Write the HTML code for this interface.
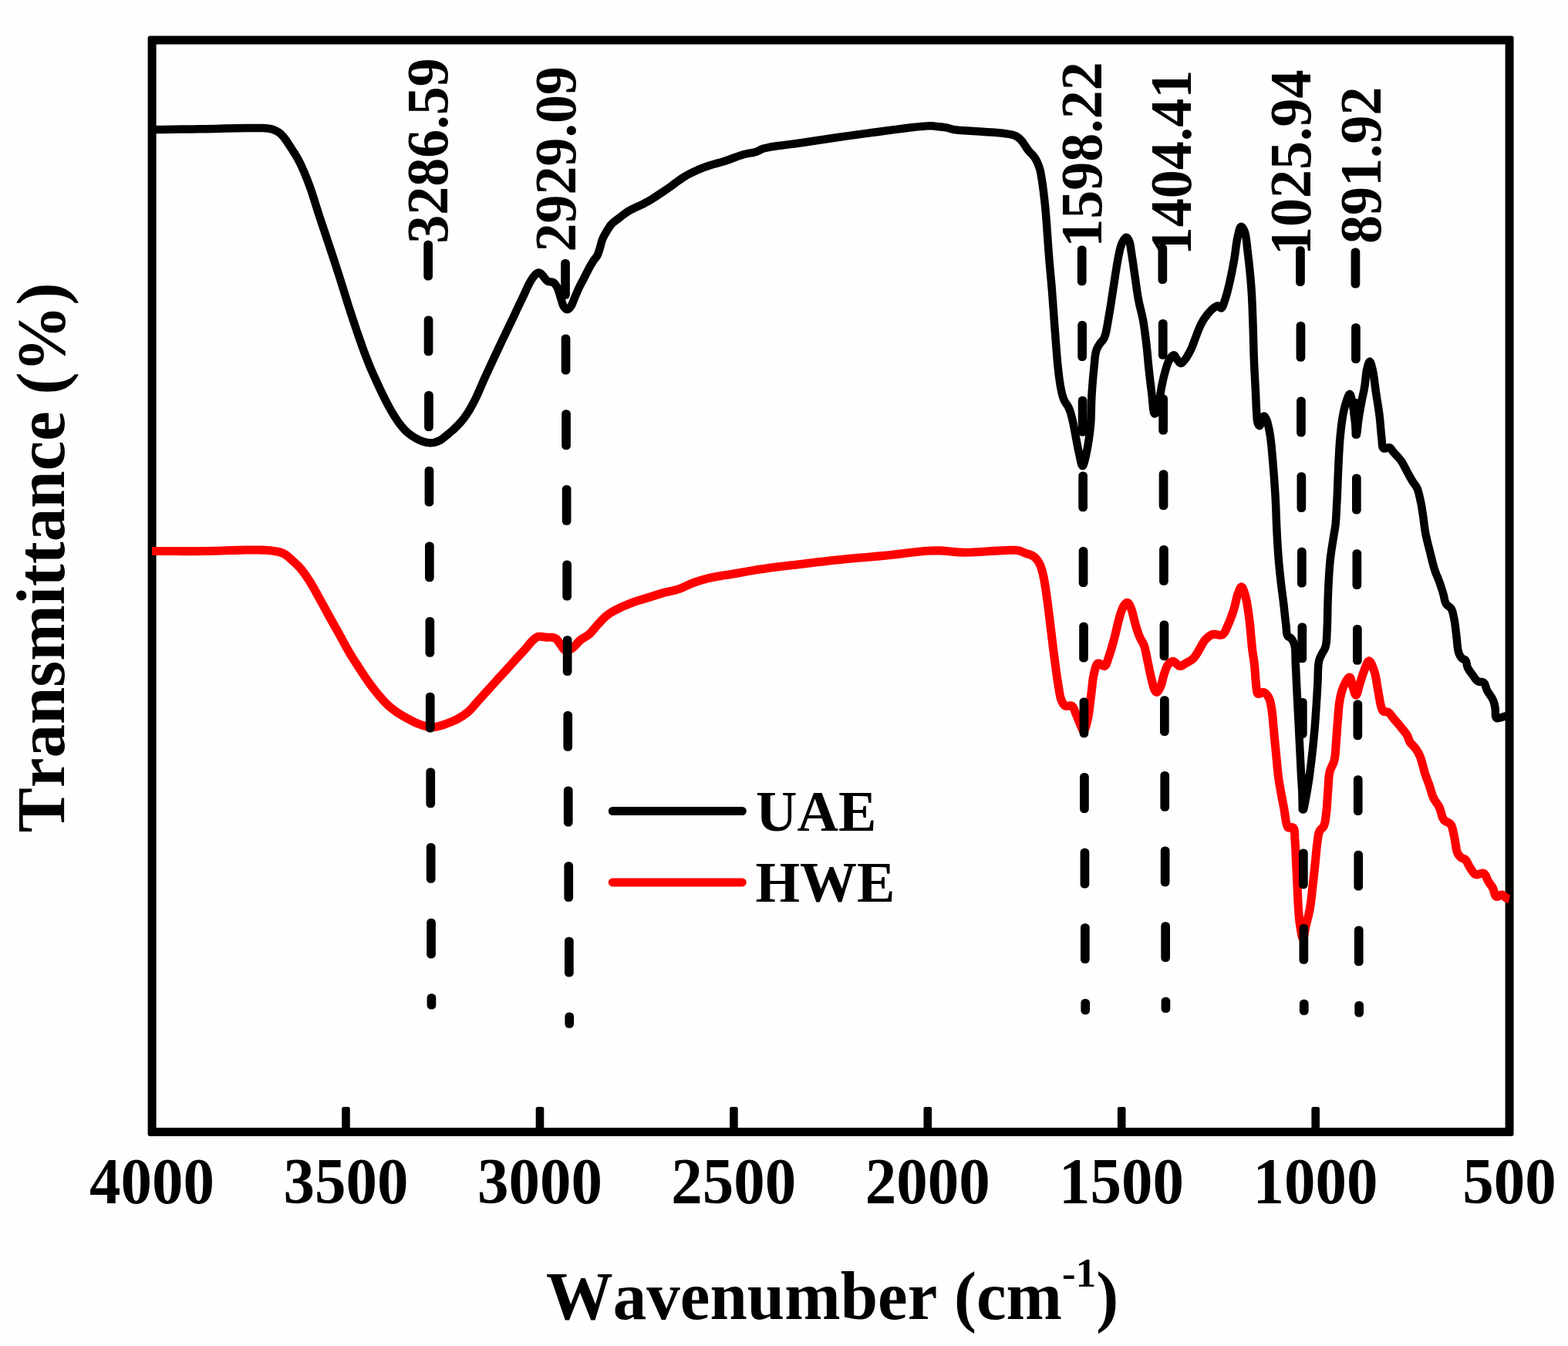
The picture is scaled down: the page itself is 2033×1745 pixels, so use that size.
<!DOCTYPE html>
<html lang="en"><head><meta charset="utf-8"><title>FTIR spectra of UAE and HWE</title>
<style>html,body{margin:0;padding:0;background:#fefefe;}body{width:2033px;height:1745px;overflow:hidden;}text{font-kerning:none;font-variant-ligatures:none;}</style></head>
<body>
<svg width="2033" height="1745" viewBox="0 0 2033 1745" style="display:block" font-family="'Liberation Serif', serif" font-weight="bold" fill="#000">
<rect width="2033" height="1745" fill="#fefefe"/>
<path fill="#000" fill-rule="evenodd" d="M194.6,46.6 H1959.6 a3,3 0 0 1 3,3 V1469.9 a3,3 0 0 1 -3,3 H194.6 a3,3 0 0 1 -3,-3 V49.6 a3,3 0 0 1 3,-3 Z M202.6,57.6 V1461.9 H1951.6 V57.6 Z"/>
<path d="M197.00,168.00 L197.91,168.00 L198.73,168.00 L199.60,168.01 L200.64,168.01 L202.00,168.00 L210.07,167.93 L222.07,167.79 L236.34,167.61 L251.21,167.40 L265.00,167.20 L278.48,166.91 L292.55,166.52 L306.39,166.16 L319.15,165.94 L330.00,166.00 L335.36,166.08 L340.20,166.12 L344.59,166.28 L348.63,166.70 L352.40,167.50 L355.04,168.35 L357.43,169.33 L359.65,170.50 L361.81,171.94 L364.00,173.70 L367.06,176.84 L370.09,180.74 L373.04,185.04 L375.86,189.41 L378.50,193.50 L380.64,196.77 L382.63,199.90 L384.52,203.04 L386.39,206.35 L388.30,210.00 L390.86,215.31 L393.44,221.07 L396.01,227.19 L398.54,233.53 L401.00,240.00 L403.69,247.60 L406.29,255.55 L408.85,263.70 L411.40,271.90 L414.00,280.00 L416.66,288.02 L419.36,296.04 L422.06,304.05 L424.75,312.05 L427.40,320.00 L429.96,327.73 L432.49,335.41 L435.01,343.07 L437.51,350.76 L440.00,358.50 L442.51,366.47 L445.00,374.51 L447.49,382.56 L449.98,390.58 L452.50,398.50 L454.97,406.12 L457.45,413.69 L459.94,421.21 L462.46,428.65 L465.00,436.00 L467.45,442.97 L469.91,449.90 L472.40,456.73 L474.93,463.45 L477.50,470.00 L479.93,475.92 L482.41,481.70 L484.91,487.37 L487.45,492.96 L490.00,498.50 L492.45,503.76 L494.91,508.96 L497.40,514.09 L499.93,519.12 L502.50,524.00 L504.92,528.43 L507.36,532.80 L509.85,537.04 L512.39,541.13 L515.00,545.00 L517.39,548.32 L519.82,551.52 L522.31,554.57 L524.87,557.41 L527.50,560.00 L529.92,562.06 L532.44,563.94 L534.99,565.64 L537.53,567.19 L540.00,568.60 L542.03,569.68 L544.02,570.67 L546.00,571.54 L547.98,572.28 L550.00,572.90 L551.98,573.39 L553.98,573.78 L555.99,574.05 L558.01,574.17 L560.00,574.10 L562.02,573.83 L564.05,573.38 L566.07,572.77 L568.06,572.00 L570.00,571.10 L572.07,569.90 L574.08,568.46 L576.07,566.88 L578.03,565.23 L580.00,563.60 L582.01,561.97 L584.00,560.32 L585.98,558.62 L587.98,556.83 L590.00,554.90 L592.46,552.45 L594.98,549.86 L597.51,547.11 L600.00,544.19 L602.40,541.10 L605.06,537.29 L607.63,533.23 L610.14,528.97 L612.60,524.54 L615.00,520.00 L617.58,514.76 L620.07,509.27 L622.50,503.64 L624.93,497.98 L627.40,492.40 L629.91,486.90 L632.42,481.40 L634.95,475.91 L637.47,470.44 L640.00,465.00 L642.48,459.70 L644.95,454.44 L647.43,449.19 L649.91,443.95 L652.40,438.70 L654.91,433.44 L657.43,428.18 L659.96,422.92 L662.49,417.66 L665.00,412.40 L667.48,407.15 L669.95,401.88 L672.42,396.62 L674.90,391.39 L677.40,386.20 L679.90,380.90 L682.44,375.39 L684.99,370.02 L687.52,365.17 L690.00,361.20 L691.52,359.14 L693.06,357.24 L694.57,355.61 L696.03,354.39 L697.40,353.70 L698.14,353.56 L698.84,353.59 L699.53,353.77 L700.24,354.08 L701.00,354.50 L702.61,355.93 L704.35,358.12 L706.20,360.60 L708.09,362.89 L710.00,364.50 L711.49,365.09 L713.04,365.33 L714.59,365.45 L716.07,365.66 L717.40,366.20 L718.59,367.11 L719.65,368.21 L720.61,369.49 L721.52,370.93 L722.40,372.50 L723.56,375.09 L724.60,378.13 L725.56,381.38 L726.48,384.58 L727.40,387.50 L728.10,389.72 L728.74,391.92 L729.38,394.01 L730.11,395.90 L731.00,397.50 L731.78,398.56 L732.65,399.55 L733.56,400.39 L734.49,400.98 L735.40,401.20 L736.33,400.99 L737.27,400.42 L738.22,399.58 L739.14,398.58 L740.00,397.50 L741.12,395.71 L742.12,393.54 L743.06,391.14 L744.00,388.64 L745.00,386.20 L746.16,383.53 L747.33,380.78 L748.52,377.98 L749.75,375.21 L751.00,372.50 L752.26,369.95 L753.55,367.46 L754.86,364.98 L756.18,362.50 L757.50,360.00 L758.84,357.38 L760.20,354.70 L761.55,352.03 L762.89,349.44 L764.20,347.00 L765.28,345.06 L766.33,343.20 L767.38,341.42 L768.43,339.68 L769.50,338.00 L770.52,336.56 L771.57,335.21 L772.62,333.88 L773.61,332.50 L774.50,331.00 L775.35,329.16 L776.08,327.19 L776.74,325.14 L777.37,323.06 L778.00,321.00 L778.60,318.92 L779.13,316.81 L779.67,314.69 L780.27,312.58 L781.00,310.50 L781.93,308.36 L782.97,306.23 L784.10,304.12 L785.29,302.04 L786.50,300.00 L787.70,298.00 L788.93,296.01 L790.20,294.06 L791.55,292.21 L793.00,290.50 L794.45,289.06 L795.95,287.79 L797.54,286.57 L799.22,285.34 L801.00,284.00 L803.46,282.07 L806.06,280.01 L808.84,277.89 L811.81,275.77 L815.00,273.70 L819.49,271.21 L824.45,268.81 L829.67,266.40 L834.92,263.89 L840.00,261.20 L845.06,258.19 L850.07,255.01 L855.06,251.72 L860.03,248.36 L865.00,245.00 L870.00,241.48 L874.95,237.80 L879.91,234.14 L884.92,230.65 L890.00,227.50 L894.91,224.85 L899.88,222.43 L904.89,220.21 L909.94,218.14 L915.00,216.20 L919.96,214.50 L924.96,213.00 L929.98,211.61 L935.00,210.22 L940.00,208.70 L945.11,206.95 L950.30,205.04 L955.44,203.15 L960.39,201.41 L965.00,200.00 L968.28,199.24 L971.41,198.70 L974.41,198.23 L977.28,197.71 L980.00,197.00 L982.02,196.20 L983.77,195.30 L985.51,194.34 L987.50,193.39 L990.00,192.50 L997.51,190.81 L1007.20,189.29 L1018.13,187.86 L1029.38,186.45 L1040.00,185.00 L1050.00,183.49 L1060.00,181.97 L1070.00,180.45 L1080.00,178.96 L1090.00,177.50 L1100.00,176.09 L1109.99,174.71 L1120.00,173.35 L1130.00,172.02 L1140.00,170.70 L1150.41,169.32 L1161.23,167.89 L1171.85,166.51 L1181.65,165.31 L1190.00,164.40 L1194.17,163.99 L1197.95,163.65 L1201.40,163.38 L1204.53,163.22 L1207.40,163.20 L1209.05,163.28 L1210.49,163.42 L1211.85,163.60 L1213.25,163.80 L1214.80,164.00 L1217.14,164.24 L1219.69,164.50 L1222.33,164.77 L1224.95,165.10 L1227.40,165.50 L1229.31,165.94 L1231.03,166.46 L1232.76,167.00 L1234.69,167.53 L1237.00,168.00 L1242.91,168.72 L1250.25,169.28 L1258.34,169.75 L1266.48,170.20 L1274.00,170.70 L1280.30,171.16 L1286.61,171.58 L1292.71,172.03 L1298.41,172.55 L1303.50,173.20 L1306.58,173.66 L1309.44,174.12 L1312.09,174.64 L1314.53,175.30 L1316.80,176.20 L1318.50,177.11 L1320.02,178.13 L1321.43,179.28 L1322.80,180.56 L1324.20,182.00 L1326.00,184.17 L1327.74,186.70 L1329.46,189.40 L1331.20,192.09 L1333.00,194.60 L1334.81,196.73 L1336.71,198.75 L1338.60,200.73 L1340.40,202.78 L1342.00,205.00 L1343.45,207.47 L1344.75,210.07 L1345.92,212.77 L1346.97,215.52 L1347.90,218.30 L1348.69,221.11 L1349.30,223.94 L1349.82,226.84 L1350.30,229.84 L1350.80,233.00 L1351.45,237.16 L1352.08,241.58 L1352.69,246.16 L1353.26,250.77 L1353.80,255.30 L1354.29,259.67 L1354.75,263.99 L1355.18,268.33 L1355.59,272.77 L1356.00,277.40 L1356.46,283.04 L1356.91,288.93 L1357.34,294.95 L1357.77,301.01 L1358.20,307.00 L1358.63,312.87 L1359.05,318.68 L1359.47,324.53 L1359.91,330.47 L1360.40,336.60 L1361.00,343.58 L1361.65,350.65 L1362.33,357.92 L1363.02,365.50 L1363.70,373.50 L1364.57,384.57 L1365.45,396.55 L1366.34,408.90 L1367.23,421.10 L1368.10,432.60 L1368.83,442.07 L1369.53,451.37 L1370.24,460.37 L1370.98,468.95 L1371.80,477.00 L1372.46,482.89 L1373.14,488.52 L1373.85,493.87 L1374.63,498.90 L1375.50,503.60 L1376.18,506.90 L1376.87,510.00 L1377.62,512.93 L1378.48,515.71 L1379.50,518.40 L1380.63,520.64 L1381.94,522.71 L1383.31,524.71 L1384.64,526.77 L1385.80,529.00 L1386.88,531.66 L1387.83,534.43 L1388.68,537.32 L1389.49,540.34 L1390.30,543.50 L1391.26,547.62 L1392.15,552.02 L1393.00,556.58 L1393.84,561.18 L1394.70,565.70 L1395.57,570.20 L1396.42,574.76 L1397.28,579.28 L1398.16,583.69 L1399.10,587.90 L1399.95,591.83 L1400.83,596.13 L1401.74,600.08 L1402.66,602.97 L1403.60,604.10 L1404.57,603.05 L1405.58,600.29 L1406.59,596.44 L1407.58,592.11 L1408.50,587.90 L1409.80,581.51 L1411.05,574.26 L1412.20,566.52 L1413.20,558.64 L1414.00,551.00 L1414.52,543.60 L1414.78,536.17 L1414.92,528.74 L1415.08,521.32 L1415.40,513.90 L1415.88,506.36 L1416.45,498.68 L1417.06,491.08 L1417.72,483.78 L1418.40,477.00 L1418.87,472.03 L1419.30,467.20 L1419.78,462.64 L1420.42,458.47 L1421.30,454.80 L1422.05,452.70 L1422.88,450.85 L1423.80,449.16 L1424.78,447.54 L1425.80,445.90 L1426.92,444.36 L1428.14,442.97 L1429.40,441.56 L1430.61,439.96 L1431.70,438.00 L1433.22,433.71 L1434.46,428.48 L1435.54,422.66 L1436.55,416.56 L1437.60,410.50 L1438.84,403.46 L1440.03,396.11 L1441.19,388.57 L1442.34,380.99 L1443.50,373.50 L1444.67,365.90 L1445.84,358.11 L1447.01,350.42 L1448.20,343.12 L1449.40,336.50 L1450.25,332.11 L1451.08,327.94 L1451.93,324.04 L1452.85,320.48 L1453.90,317.30 L1454.72,315.31 L1455.60,313.43 L1456.52,311.75 L1457.43,310.31 L1458.30,309.20 L1458.74,308.71 L1459.18,308.27 L1459.61,307.93 L1460.05,307.72 L1460.50,307.70 L1461.24,308.10 L1462.02,308.94 L1462.80,310.11 L1463.54,311.47 L1464.20,312.90 L1465.03,315.44 L1465.65,318.45 L1466.16,321.80 L1466.64,325.39 L1467.20,329.10 L1468.05,334.45 L1468.93,340.30 L1469.82,346.43 L1470.71,352.64 L1471.60,358.70 L1472.45,364.65 L1473.27,370.63 L1474.10,376.59 L1475.00,382.49 L1476.00,388.30 L1477.12,393.68 L1478.36,398.92 L1479.65,404.13 L1480.89,409.42 L1482.00,414.90 L1483.06,421.18 L1484.02,427.67 L1484.90,434.26 L1485.72,440.87 L1486.50,447.40 L1487.19,453.75 L1487.80,460.08 L1488.38,466.40 L1488.96,472.71 L1489.60,479.00 L1490.30,485.26 L1491.02,491.54 L1491.77,497.79 L1492.53,503.96 L1493.30,510.00 L1493.94,516.24 L1494.51,523.17 L1495.13,529.63 L1495.92,534.46 L1497.00,536.50 L1497.81,536.14 L1498.75,534.94 L1499.73,533.17 L1500.67,531.10 L1501.50,529.00 L1502.59,524.94 L1503.42,519.96 L1504.11,514.51 L1504.79,509.04 L1505.60,504.00 L1506.41,499.90 L1507.22,495.92 L1508.07,492.03 L1508.99,488.20 L1510.00,484.40 L1511.04,480.63 L1512.12,476.76 L1513.29,473.01 L1514.57,469.59 L1516.00,466.70 L1517.11,464.91 L1518.31,463.17 L1519.56,461.67 L1520.77,460.65 L1521.90,460.30 L1522.84,460.78 L1523.70,461.93 L1524.55,463.43 L1525.40,464.98 L1526.30,466.30 L1527.20,467.44 L1528.13,468.68 L1529.07,469.82 L1530.03,470.65 L1531.00,471.00 L1531.98,470.77 L1532.97,470.09 L1533.97,469.10 L1534.98,467.93 L1536.00,466.70 L1537.61,464.57 L1539.28,462.00 L1540.94,459.16 L1542.53,456.21 L1544.00,453.30 L1545.35,450.33 L1546.57,447.26 L1547.73,444.15 L1548.85,441.04 L1550.00,438.00 L1551.11,435.11 L1552.20,432.21 L1553.28,429.36 L1554.37,426.60 L1555.50,424.00 L1556.48,421.92 L1557.47,419.93 L1558.47,418.02 L1559.48,416.21 L1560.50,414.50 L1561.34,413.18 L1562.19,411.96 L1563.04,410.79 L1563.91,409.64 L1564.80,408.50 L1565.70,407.36 L1566.62,406.22 L1567.56,405.11 L1568.52,404.03 L1569.50,403.00 L1570.46,402.03 L1571.44,401.07 L1572.44,400.16 L1573.46,399.33 L1574.50,398.60 L1575.48,397.98 L1576.51,397.38 L1577.54,396.87 L1578.55,396.55 L1579.50,396.50 L1580.36,396.91 L1581.19,397.73 L1581.99,398.63 L1582.76,399.33 L1583.50,399.50 L1584.59,398.57 L1585.60,396.62 L1586.56,394.01 L1587.48,391.12 L1588.40,388.30 L1589.65,384.42 L1590.86,380.15 L1592.04,375.60 L1593.18,370.88 L1594.30,366.10 L1595.56,360.46 L1596.79,354.58 L1597.98,348.56 L1599.12,342.50 L1600.20,336.50 L1601.15,330.41 L1601.99,324.13 L1602.80,317.94 L1603.68,312.13 L1604.70,307.00 L1605.48,303.58 L1606.29,300.08 L1607.15,296.96 L1608.08,294.68 L1609.10,293.70 L1609.94,293.95 L1610.86,294.84 L1611.79,296.19 L1612.70,297.84 L1613.50,299.60 L1614.79,303.89 L1615.76,309.41 L1616.54,315.73 L1617.25,322.43 L1618.00,329.10 L1618.99,337.38 L1619.96,346.15 L1620.87,355.22 L1621.69,364.40 L1622.40,373.50 L1622.99,382.74 L1623.45,392.07 L1623.83,401.42 L1624.17,410.75 L1624.50,420.00 L1624.79,428.95 L1625.03,437.84 L1625.25,446.69 L1625.49,455.54 L1625.80,464.40 L1626.19,473.44 L1626.64,482.64 L1627.12,491.75 L1627.58,500.52 L1628.00,508.70 L1628.27,514.76 L1628.51,520.63 L1628.74,526.20 L1629.00,531.36 L1629.30,536.00 L1629.49,538.82 L1629.64,541.48 L1629.84,543.93 L1630.13,546.12 L1630.60,548.00 L1631.00,549.10 L1631.46,550.18 L1631.97,551.12 L1632.49,551.77 L1633.00,552.00 L1633.63,551.51 L1634.29,550.31 L1634.94,548.70 L1635.59,546.99 L1636.20,545.50 L1636.73,544.11 L1637.23,542.55 L1637.72,541.08 L1638.23,539.98 L1638.80,539.50 L1639.37,539.72 L1640.00,540.39 L1640.63,541.35 L1641.25,542.44 L1641.80,543.50 L1642.40,544.85 L1642.93,546.33 L1643.40,547.93 L1643.84,549.66 L1644.30,551.50 L1644.95,554.32 L1645.58,557.39 L1646.18,560.70 L1646.76,564.21 L1647.30,567.90 L1647.97,573.24 L1648.58,579.07 L1649.14,585.18 L1649.68,591.36 L1650.20,597.40 L1650.71,603.35 L1651.20,609.35 L1651.66,615.34 L1652.09,621.24 L1652.50,627.00 L1652.84,632.07 L1653.16,636.95 L1653.45,641.80 L1653.73,646.76 L1654.00,652.00 L1654.29,658.61 L1654.55,665.53 L1654.80,672.65 L1655.07,679.84 L1655.40,687.00 L1655.79,694.40 L1656.21,701.93 L1656.67,709.46 L1657.16,716.85 L1657.70,724.00 L1658.22,730.12 L1658.76,736.05 L1659.34,741.87 L1659.96,747.66 L1660.60,753.50 L1661.30,759.43 L1662.05,765.37 L1662.82,771.31 L1663.58,777.19 L1664.30,783.00 L1664.93,788.55 L1665.54,794.15 L1666.13,799.65 L1666.71,804.88 L1667.30,809.70 L1667.64,813.14 L1667.87,816.53 L1668.15,819.69 L1668.64,822.41 L1669.50,824.50 L1670.25,825.31 L1671.14,825.83 L1672.10,826.23 L1673.04,826.70 L1673.90,827.40 L1674.96,828.73 L1675.97,830.31 L1676.89,832.10 L1677.71,834.10 L1678.40,836.30 L1679.11,840.22 L1679.45,844.78 L1679.57,849.75 L1679.64,854.90 L1679.80,860.00 L1680.09,865.71 L1680.37,871.61 L1680.64,877.61 L1680.92,883.63 L1681.20,889.60 L1681.49,895.50 L1681.79,901.40 L1682.10,907.30 L1682.40,913.20 L1682.70,919.10 L1683.00,925.02 L1683.30,930.94 L1683.60,936.86 L1683.90,942.78 L1684.20,948.70 L1684.50,954.62 L1684.80,960.54 L1685.10,966.46 L1685.40,972.38 L1685.70,978.30 L1686.00,984.29 L1686.29,990.35 L1686.59,996.37 L1686.89,1002.26 L1687.20,1007.90 L1687.48,1012.55 L1687.76,1017.04 L1688.04,1021.42 L1688.33,1025.73 L1688.60,1030.00 L1688.80,1034.55 L1688.96,1039.65 L1689.13,1044.39 L1689.39,1047.91 L1689.80,1049.30 L1690.33,1048.33 L1690.97,1045.75 L1691.68,1042.18 L1692.41,1038.22 L1693.10,1034.50 L1693.99,1029.71 L1694.90,1024.50 L1695.80,1019.02 L1696.68,1013.44 L1697.50,1007.90 L1698.31,1002.09 L1699.08,996.18 L1699.82,990.22 L1700.52,984.25 L1701.20,978.30 L1701.86,972.38 L1702.49,966.46 L1703.09,960.54 L1703.66,954.62 L1704.20,948.70 L1704.70,942.81 L1705.15,936.94 L1705.58,931.06 L1705.99,925.13 L1706.40,919.10 L1706.83,912.56 L1707.24,905.88 L1707.64,899.15 L1708.02,892.49 L1708.40,886.00 L1708.65,879.90 L1708.79,873.66 L1708.97,867.61 L1709.33,862.11 L1710.00,857.50 L1710.56,855.35 L1711.21,853.51 L1711.92,851.85 L1712.69,850.23 L1713.50,848.50 L1714.48,846.60 L1715.58,844.78 L1716.71,842.90 L1717.75,840.84 L1718.60,838.50 L1719.46,834.39 L1719.97,829.67 L1720.27,824.57 L1720.47,819.27 L1720.70,814.00 L1720.96,808.02 L1721.12,801.83 L1721.23,795.52 L1721.34,789.21 L1721.50,783.00 L1721.70,777.05 L1721.90,771.15 L1722.13,765.26 L1722.39,759.39 L1722.70,753.50 L1723.05,747.56 L1723.42,741.58 L1723.84,735.62 L1724.33,729.74 L1724.90,724.00 L1725.54,718.77 L1726.28,713.60 L1727.06,708.53 L1727.85,703.59 L1728.60,698.80 L1729.24,694.83 L1729.89,691.05 L1730.52,687.33 L1731.10,683.56 L1731.60,679.60 L1732.04,674.76 L1732.37,669.62 L1732.64,664.44 L1732.87,659.48 L1733.10,655.00 L1733.26,652.21 L1733.40,649.75 L1733.53,647.36 L1733.66,644.80 L1733.80,641.80 L1734.06,635.59 L1734.34,628.34 L1734.63,620.49 L1734.95,612.49 L1735.30,604.80 L1735.66,597.35 L1736.03,589.84 L1736.44,582.36 L1736.92,575.01 L1737.50,567.90 L1738.10,561.64 L1738.76,555.45 L1739.49,549.42 L1740.30,543.67 L1741.20,538.30 L1741.97,534.34 L1742.79,530.56 L1743.66,526.97 L1744.60,523.61 L1745.60,520.50 L1746.44,518.05 L1747.34,515.47 L1748.27,513.16 L1749.17,511.50 L1750.00,510.90 L1750.84,511.79 L1751.63,513.99 L1752.37,517.01 L1753.06,520.34 L1753.70,523.50 L1754.44,527.58 L1755.07,532.08 L1755.63,536.75 L1756.16,541.37 L1756.70,545.70 L1757.16,549.64 L1757.60,553.97 L1758.04,557.95 L1758.47,560.87 L1758.90,562.00 L1759.33,560.87 L1759.74,557.95 L1760.16,553.96 L1760.60,549.64 L1761.10,545.70 L1761.75,541.48 L1762.45,537.06 L1763.21,532.54 L1763.99,527.99 L1764.80,523.50 L1765.67,519.06 L1766.62,514.62 L1767.58,510.19 L1768.49,505.75 L1769.30,501.30 L1769.94,496.73 L1770.44,492.01 L1770.91,487.35 L1771.46,482.98 L1772.20,479.10 L1772.85,476.44 L1773.58,473.68 L1774.35,471.23 L1775.14,469.47 L1775.90,468.80 L1776.65,469.45 L1777.42,471.16 L1778.18,473.58 L1778.91,476.34 L1779.60,479.10 L1780.62,484.02 L1781.51,489.81 L1782.34,496.11 L1783.15,502.53 L1784.00,508.70 L1784.92,514.62 L1785.87,520.54 L1786.81,526.45 L1787.70,532.37 L1788.50,538.30 L1789.17,544.40 L1789.75,550.69 L1790.27,556.90 L1790.81,562.73 L1791.40,567.90 L1791.70,571.19 L1791.86,574.44 L1792.11,577.39 L1792.65,579.76 L1793.70,581.30 L1795.02,581.62 L1796.71,581.28 L1798.54,580.67 L1800.31,580.21 L1801.80,580.30 L1802.83,580.95 L1803.67,581.90 L1804.44,583.05 L1805.24,584.32 L1806.20,585.60 L1808.04,587.64 L1810.17,589.91 L1812.43,592.34 L1814.63,594.86 L1816.60,597.40 L1818.26,599.95 L1819.76,602.60 L1821.17,605.30 L1822.56,608.01 L1824.00,610.70 L1825.49,613.41 L1826.98,616.16 L1828.47,618.89 L1829.94,621.53 L1831.40,624.00 L1832.63,625.85 L1833.88,627.54 L1835.11,629.18 L1836.26,630.93 L1837.30,632.90 L1838.41,635.76 L1839.37,638.91 L1840.20,642.25 L1840.96,645.65 L1841.70,649.00 L1842.40,652.30 L1843.01,655.58 L1843.57,658.91 L1844.12,662.36 L1844.70,666.00 L1845.40,670.86 L1846.07,676.05 L1846.75,681.41 L1847.51,686.78 L1848.40,692.00 L1849.43,696.98 L1850.59,701.92 L1851.81,706.83 L1853.07,711.69 L1854.30,716.50 L1855.44,721.14 L1856.58,725.81 L1857.74,730.40 L1858.93,734.83 L1860.20,739.00 L1861.34,742.21 L1862.54,745.24 L1863.77,748.15 L1864.97,751.04 L1866.10,754.00 L1867.15,757.00 L1868.16,760.01 L1869.14,763.02 L1870.08,766.03 L1871.00,769.00 L1871.77,771.94 L1872.42,774.97 L1873.08,777.93 L1873.90,780.66 L1875.00,783.00 L1876.16,784.41 L1877.53,785.52 L1878.98,786.52 L1880.35,787.61 L1881.50,789.00 L1882.58,791.15 L1883.42,793.58 L1884.10,796.24 L1884.70,799.07 L1885.30,802.00 L1886.04,806.02 L1886.66,810.37 L1887.21,814.91 L1887.74,819.50 L1888.30,824.00 L1888.81,828.60 L1889.23,833.39 L1889.69,838.08 L1890.31,842.39 L1891.20,846.00 L1891.91,847.88 L1892.70,849.58 L1893.56,851.08 L1894.49,852.39 L1895.50,853.50 L1896.38,854.13 L1897.36,854.53 L1898.36,854.87 L1899.30,855.31 L1900.10,856.00 L1900.89,857.49 L1901.41,859.41 L1901.83,861.55 L1902.30,863.71 L1903.00,865.70 L1903.99,867.56 L1905.13,869.36 L1906.38,871.12 L1907.68,872.86 L1909.00,874.60 L1910.36,876.51 L1911.74,878.52 L1913.18,880.45 L1914.69,882.14 L1916.30,883.40 L1917.75,883.92 L1919.33,884.06 L1920.92,884.09 L1922.41,884.28 L1923.70,884.90 L1924.89,886.37 L1925.76,888.37 L1926.49,890.67 L1927.25,893.05 L1928.20,895.30 L1929.59,897.64 L1931.19,900.00 L1932.83,902.37 L1934.36,904.74 L1935.60,907.10 L1936.42,909.14 L1937.07,911.15 L1937.61,913.17 L1938.07,915.24 L1938.50,917.40 L1938.79,920.21 L1938.86,923.40 L1938.92,926.51 L1939.23,929.09 L1940.00,930.70 L1940.70,931.08 L1941.53,931.17 L1942.44,931.07 L1943.41,930.88 L1944.40,930.70 L1945.78,930.37 L1947.29,929.85 L1948.84,929.28 L1950.37,928.78 L1951.80,928.50 L1952.89,928.47 L1953.94,928.55 L1954.96,928.70 L1955.97,928.87 L1957.00,929.00" fill="none" stroke="#000" stroke-width="10.5" stroke-linejoin="round" stroke-linecap="butt"/>
<rect x="443.2" y="1435" width="10.6" height="32" rx="2.5" fill="#000"/>
<rect x="694.7" y="1435" width="10.6" height="32" rx="2.5" fill="#000"/>
<rect x="946.1" y="1435" width="10.6" height="32" rx="2.5" fill="#000"/>
<rect x="1197.5" y="1435" width="10.6" height="32" rx="2.5" fill="#000"/>
<rect x="1448.9" y="1435" width="10.6" height="32" rx="2.5" fill="#000"/>
<rect x="1700.4" y="1435" width="10.6" height="32" rx="2.5" fill="#000"/>
<path d="M197.00,714.50 L210.62,714.52 L224.27,714.57 L237.91,714.61 L251.50,714.60 L265.00,714.50 L278.64,714.23 L292.73,713.81 L306.51,713.38 L319.19,713.07 L330.00,713.00 L335.30,713.05 L340.03,713.13 L344.34,713.28 L348.41,713.55 L352.40,714.00 L355.65,714.45 L358.76,714.93 L361.75,715.54 L364.62,716.36 L367.40,717.50 L370.13,719.07 L372.73,721.00 L375.23,723.14 L377.65,725.36 L380.00,727.50 L382.11,729.38 L384.12,731.24 L386.08,733.14 L388.03,735.16 L390.00,737.40 L392.49,740.50 L395.00,743.88 L397.50,747.48 L399.97,751.21 L402.40,755.00 L404.99,759.27 L407.52,763.71 L410.02,768.27 L412.51,772.86 L415.00,777.40 L417.49,781.91 L419.97,786.44 L422.43,790.96 L424.91,795.49 L427.40,800.00 L429.91,804.49 L432.43,808.96 L434.97,813.44 L437.49,817.91 L440.00,822.40 L442.48,826.94 L444.94,831.51 L447.39,836.08 L449.87,840.59 L452.40,845.00 L454.87,849.12 L457.38,853.16 L459.91,857.14 L462.46,861.08 L465.00,865.00 L467.46,868.80 L469.92,872.58 L472.38,876.31 L474.87,879.99 L477.40,883.60 L479.87,887.01 L482.37,890.36 L484.89,893.66 L487.43,896.87 L490.00,900.00 L492.43,902.88 L494.87,905.71 L497.34,908.46 L499.84,911.10 L502.40,913.60 L504.85,915.80 L507.35,917.90 L509.88,919.89 L512.43,921.79 L515.00,923.60 L517.45,925.22 L519.91,926.75 L522.39,928.20 L524.89,929.61 L527.40,931.00 L529.89,932.37 L532.40,933.73 L534.92,935.03 L537.46,936.27 L540.00,937.40 L542.51,938.41 L545.08,939.35 L547.63,940.22 L550.10,940.97 L552.40,941.60 L554.01,942.01 L555.51,942.37 L556.97,942.65 L558.44,942.84 L560.00,942.90 L561.90,942.79 L563.86,942.52 L565.87,942.12 L567.92,941.63 L570.00,941.10 L572.41,940.43 L574.89,939.65 L577.40,938.79 L579.91,937.87 L582.40,936.90 L584.94,935.88 L587.49,934.81 L590.02,933.67 L592.53,932.44 L595.00,931.10 L597.55,929.59 L600.06,927.98 L602.55,926.26 L605.00,924.41 L607.40,922.40 L610.00,919.92 L612.54,917.19 L615.03,914.33 L617.51,911.43 L620.00,908.60 L622.49,905.86 L624.97,903.12 L627.44,900.38 L629.92,897.64 L632.40,894.90 L634.90,892.14 L637.40,889.38 L639.90,886.62 L642.40,883.86 L644.90,881.10 L647.40,878.36 L649.90,875.62 L652.40,872.88 L654.90,870.14 L657.40,867.40 L659.90,864.64 L662.40,861.88 L664.90,859.12 L667.40,856.36 L669.90,853.60 L672.45,850.81 L675.06,847.98 L677.63,845.18 L680.11,842.46 L682.40,839.90 L684.04,837.96 L685.55,836.07 L687.00,834.27 L688.46,832.57 L690.00,831.00 L691.42,829.66 L692.85,828.35 L694.32,827.16 L695.85,826.18 L697.50,825.50 L699.34,825.20 L701.28,825.25 L703.31,825.51 L705.39,825.84 L707.50,826.10 L710.00,826.19 L712.68,826.20 L715.35,826.29 L717.85,826.64 L720.00,827.40 L721.52,828.51 L722.77,829.95 L723.89,831.58 L724.99,833.27 L726.20,834.90 L727.61,836.82 L729.03,838.98 L730.50,841.05 L732.04,842.71 L733.70,843.60 L735.35,843.64 L737.11,843.12 L738.93,842.21 L740.75,841.08 L742.50,839.90 L744.51,838.25 L746.44,836.22 L748.36,834.02 L750.33,831.84 L752.40,829.90 L754.58,828.31 L756.86,826.90 L759.19,825.54 L761.49,824.09 L763.70,822.40 L766.02,820.18 L768.24,817.70 L770.42,815.09 L772.62,812.45 L774.90,809.90 L777.29,807.32 L779.70,804.70 L782.16,802.12 L784.71,799.66 L787.40,797.40 L790.21,795.40 L793.13,793.58 L796.16,791.90 L799.25,790.28 L802.40,788.70 L805.76,787.07 L809.20,785.51 L812.70,784.02 L816.27,782.58 L819.90,781.20 L823.79,779.84 L827.78,778.56 L831.82,777.34 L835.87,776.13 L839.90,774.90 L843.90,773.64 L847.89,772.36 L851.89,771.09 L855.89,769.86 L859.90,768.70 L863.92,767.67 L867.98,766.75 L872.02,765.85 L876.01,764.86 L879.90,763.70 L883.48,762.35 L886.95,760.82 L890.37,759.22 L893.83,757.65 L897.40,756.20 L901.20,754.82 L904.99,753.50 L908.89,752.25 L912.99,751.05 L917.40,749.90 L923.72,748.51 L930.57,747.25 L937.76,746.06 L945.08,744.90 L952.30,743.70 L959.62,742.42 L966.94,741.13 L974.34,739.85 L981.92,738.60 L989.80,737.40 L999.33,736.08 L1009.27,734.82 L1019.45,733.60 L1029.68,732.40 L1039.80,731.20 L1049.72,730.00 L1059.57,728.81 L1069.46,727.64 L1079.50,726.50 L1089.80,725.40 L1101.46,724.27 L1113.42,723.21 L1125.57,722.17 L1137.80,721.11 L1150.00,720.00 L1162.66,718.62 L1175.63,717.02 L1188.51,715.49 L1200.90,714.29 L1212.40,713.70 L1220.44,713.86 L1227.86,714.44 L1235.02,715.20 L1242.29,715.87 L1250.00,716.20 L1259.90,716.02 L1270.57,715.47 L1281.28,714.76 L1291.33,714.10 L1300.00,713.70 L1304.69,713.53 L1309.00,713.33 L1312.96,713.22 L1316.61,713.31 L1320.00,713.70 L1322.25,714.24 L1324.28,714.95 L1326.19,715.76 L1328.06,716.60 L1330.00,717.40 L1332.05,718.08 L1334.14,718.69 L1336.20,719.34 L1338.18,720.14 L1340.00,721.20 L1341.72,722.58 L1343.32,724.19 L1344.79,725.98 L1346.15,727.93 L1347.40,730.00 L1348.67,732.59 L1349.74,735.37 L1350.67,738.36 L1351.54,741.56 L1352.40,745.00 L1353.55,750.25 L1354.59,756.02 L1355.55,762.17 L1356.48,768.55 L1357.40,775.00 L1358.45,782.63 L1359.46,790.58 L1360.44,798.72 L1361.41,806.91 L1362.40,815.00 L1363.39,823.04 L1364.38,831.13 L1365.37,839.20 L1366.38,847.17 L1367.40,855.00 L1368.38,862.35 L1369.37,869.76 L1370.38,877.00 L1371.39,883.82 L1372.40,890.00 L1373.05,894.00 L1373.65,897.78 L1374.27,901.30 L1375.03,904.52 L1376.00,907.40 L1376.81,909.29 L1377.66,911.08 L1378.61,912.67 L1379.71,914.01 L1381.00,915.00 L1382.61,915.41 L1384.52,915.29 L1386.52,915.00 L1388.42,914.92 L1390.00,915.40 L1391.29,916.67 L1392.29,918.44 L1393.12,920.53 L1393.91,922.78 L1394.80,925.00 L1396.03,927.86 L1397.29,931.01 L1398.56,934.23 L1399.80,937.29 L1401.00,940.00 L1401.83,941.91 L1402.63,943.90 L1403.43,945.68 L1404.22,946.95 L1405.00,947.40 L1406.04,946.50 L1407.09,944.24 L1408.12,941.09 L1409.10,937.53 L1410.00,934.00 L1411.20,928.17 L1412.21,921.39 L1413.10,914.12 L1413.94,906.83 L1414.80,900.00 L1415.53,894.11 L1416.16,888.20 L1416.81,882.48 L1417.59,877.14 L1418.60,872.40 L1419.38,869.28 L1420.18,866.17 L1421.09,863.39 L1422.20,861.23 L1423.60,860.00 L1425.14,860.10 L1426.98,861.12 L1428.91,862.45 L1430.75,863.48 L1432.30,863.60 L1433.63,862.48 L1434.67,860.53 L1435.54,858.01 L1436.38,855.21 L1437.30,852.40 L1438.79,848.10 L1440.31,843.26 L1441.83,838.07 L1443.33,832.72 L1444.80,827.40 L1446.34,821.37 L1447.84,814.96 L1449.32,808.57 L1450.80,802.59 L1452.30,797.40 L1453.26,794.42 L1454.19,791.64 L1455.14,789.10 L1456.16,786.87 L1457.30,785.00 L1458.15,783.87 L1459.07,782.81 L1460.01,781.92 L1460.93,781.34 L1461.80,781.20 L1462.71,781.65 L1463.57,782.65 L1464.40,784.05 L1465.20,785.68 L1466.00,787.40 L1467.36,791.05 L1468.64,795.60 L1469.87,800.59 L1471.08,805.55 L1472.30,810.00 L1473.28,813.23 L1474.23,816.32 L1475.19,819.28 L1476.20,822.17 L1477.30,825.00 L1478.48,827.51 L1479.77,829.86 L1481.10,832.20 L1482.37,834.66 L1483.50,837.40 L1484.72,841.45 L1485.74,845.91 L1486.66,850.61 L1487.55,855.37 L1488.50,860.00 L1489.50,864.59 L1490.50,869.29 L1491.50,873.92 L1492.50,878.35 L1493.50,882.40 L1494.24,885.30 L1494.95,888.16 L1495.68,890.81 L1496.45,893.11 L1497.30,894.90 L1497.77,895.66 L1498.25,896.36 L1498.75,896.93 L1499.26,897.30 L1499.80,897.40 L1500.74,896.87 L1501.77,895.61 L1502.83,893.86 L1503.86,891.88 L1504.80,889.90 L1505.94,886.85 L1506.92,883.28 L1507.83,879.49 L1508.76,875.76 L1509.80,872.40 L1510.69,869.84 L1511.57,867.33 L1512.51,864.96 L1513.56,862.85 L1514.80,861.10 L1515.89,859.96 L1517.09,858.93 L1518.36,858.11 L1519.67,857.57 L1521.00,857.40 L1522.68,858.06 L1524.44,859.56 L1526.24,861.35 L1528.04,862.88 L1529.80,863.60 L1531.30,863.43 L1532.78,862.81 L1534.25,861.90 L1535.75,860.87 L1537.30,859.90 L1539.27,858.84 L1541.35,857.72 L1543.45,856.51 L1545.47,855.15 L1547.30,853.60 L1549.01,851.67 L1550.55,849.49 L1551.98,847.16 L1553.37,844.77 L1554.80,842.40 L1556.26,839.88 L1557.66,837.24 L1559.07,834.61 L1560.59,832.12 L1562.30,829.90 L1564.07,828.02 L1565.97,826.23 L1567.98,824.64 L1570.09,823.33 L1572.30,822.40 L1574.73,822.18 L1577.38,822.59 L1580.07,823.17 L1582.61,823.43 L1584.80,822.90 L1586.73,821.26 L1588.32,818.88 L1589.69,816.03 L1590.97,812.95 L1592.30,809.90 L1593.94,806.22 L1595.52,802.27 L1597.04,798.15 L1598.47,794.00 L1599.80,789.90 L1600.95,785.81 L1601.96,781.57 L1602.91,777.38 L1603.89,773.46 L1605.00,770.00 L1605.87,767.63 L1606.79,765.19 L1607.74,763.03 L1608.68,761.49 L1609.60,760.90 L1610.51,761.47 L1611.42,762.96 L1612.32,765.08 L1613.18,767.53 L1614.00,770.00 L1615.24,774.46 L1616.34,779.70 L1617.35,785.50 L1618.29,791.64 L1619.20,797.90 L1620.25,806.38 L1621.18,815.72 L1622.04,825.25 L1622.86,834.30 L1623.70,842.20 L1624.28,846.61 L1624.87,850.53 L1625.44,854.22 L1625.99,857.95 L1626.50,862.00 L1627.00,867.45 L1627.42,873.38 L1627.81,879.35 L1628.25,884.90 L1628.80,889.60 L1629.09,892.12 L1629.31,894.56 L1629.60,896.73 L1630.12,898.44 L1631.00,899.50 L1632.18,899.61 L1633.66,899.04 L1635.30,898.22 L1636.93,897.56 L1638.40,897.50 L1639.88,898.20 L1641.32,899.36 L1642.68,900.87 L1643.92,902.60 L1645.00,904.40 L1646.09,906.83 L1646.91,909.54 L1647.56,912.51 L1648.13,915.71 L1648.70,919.10 L1649.46,924.35 L1650.09,930.18 L1650.63,936.36 L1651.15,942.61 L1651.70,948.70 L1652.28,954.62 L1652.86,960.54 L1653.44,966.46 L1654.02,972.38 L1654.60,978.30 L1655.17,984.29 L1655.73,990.35 L1656.30,996.38 L1656.91,1002.26 L1657.60,1007.90 L1658.27,1012.56 L1658.99,1017.05 L1659.75,1021.43 L1660.53,1025.73 L1661.30,1030.00 L1662.04,1033.96 L1662.80,1037.86 L1663.56,1041.70 L1664.30,1045.51 L1665.00,1049.30 L1665.60,1053.04 L1666.15,1056.90 L1666.68,1060.66 L1667.25,1064.10 L1667.90,1067.00 L1668.27,1068.49 L1668.59,1069.88 L1668.96,1071.11 L1669.47,1072.14 L1670.20,1072.90 L1671.31,1073.19 L1672.72,1073.03 L1674.24,1072.74 L1675.67,1072.65 L1676.80,1073.10 L1677.90,1075.03 L1678.45,1077.98 L1678.67,1081.60 L1678.78,1085.52 L1679.00,1089.40 L1679.40,1094.67 L1679.72,1100.41 L1679.98,1106.42 L1680.23,1112.51 L1680.50,1118.50 L1680.80,1124.51 L1681.10,1130.55 L1681.40,1136.61 L1681.70,1142.67 L1682.00,1148.70 L1682.28,1154.71 L1682.55,1160.77 L1682.82,1166.78 L1683.13,1172.66 L1683.50,1178.30 L1683.85,1183.01 L1684.21,1187.59 L1684.62,1192.04 L1685.10,1196.35 L1685.70,1200.50 L1686.33,1204.43 L1687.06,1208.73 L1687.84,1212.68 L1688.63,1215.58 L1689.40,1216.70 L1690.13,1215.57 L1690.85,1212.67 L1691.57,1208.72 L1692.32,1204.42 L1693.10,1200.50 L1694.11,1196.34 L1695.20,1192.04 L1696.31,1187.59 L1697.36,1183.02 L1698.30,1178.30 L1699.20,1172.67 L1699.98,1166.79 L1700.67,1160.76 L1701.33,1154.70 L1702.00,1148.70 L1702.68,1142.73 L1703.33,1136.73 L1703.97,1130.74 L1704.59,1124.82 L1705.20,1119.00 L1705.74,1113.58 L1706.24,1108.15 L1706.75,1102.83 L1707.29,1097.74 L1707.90,1093.00 L1708.35,1089.51 L1708.76,1086.14 L1709.23,1082.95 L1709.87,1080.04 L1710.80,1077.50 L1711.76,1076.00 L1712.92,1074.81 L1714.16,1073.71 L1715.33,1072.51 L1716.30,1071.00 L1717.29,1068.41 L1718.01,1065.46 L1718.56,1062.20 L1719.02,1058.70 L1719.50,1055.00 L1720.13,1049.17 L1720.62,1042.61 L1721.04,1035.73 L1721.44,1028.95 L1721.90,1022.70 L1722.24,1017.91 L1722.52,1013.28 L1722.84,1008.81 L1723.33,1004.55 L1724.10,1000.50 L1725.10,997.37 L1726.37,994.49 L1727.72,991.71 L1728.99,988.83 L1730.00,985.70 L1730.79,981.64 L1731.30,977.34 L1731.65,972.86 L1731.94,968.23 L1732.30,963.50 L1732.76,957.84 L1733.18,951.92 L1733.59,945.88 L1734.02,939.83 L1734.50,933.90 L1734.96,928.17 L1735.39,922.40 L1735.88,916.70 L1736.52,911.20 L1737.40,906.00 L1738.32,901.81 L1739.37,897.72 L1740.54,893.83 L1741.85,890.22 L1743.30,887.00 L1744.56,884.60 L1745.99,882.13 L1747.45,879.96 L1748.83,878.47 L1750.00,878.00 L1750.94,878.94 L1751.69,881.07 L1752.34,883.88 L1752.97,886.86 L1753.70,889.50 L1754.54,892.24 L1755.42,895.35 L1756.32,898.29 L1757.22,900.46 L1758.10,901.30 L1759.00,900.37 L1759.89,897.98 L1760.77,894.74 L1761.67,891.21 L1762.60,888.00 L1763.71,884.52 L1764.83,880.84 L1765.99,877.09 L1767.20,873.43 L1768.50,870.00 L1769.72,866.82 L1771.00,863.37 L1772.32,860.21 L1773.66,857.90 L1775.00,857.00 L1776.38,857.84 L1777.82,860.05 L1779.25,863.14 L1780.60,866.62 L1781.80,870.00 L1783.15,874.78 L1784.25,880.23 L1785.19,885.98 L1786.07,891.69 L1787.00,897.00 L1787.81,901.41 L1788.57,905.87 L1789.34,910.12 L1790.13,913.92 L1791.00,917.00 L1791.45,918.32 L1791.86,919.49 L1792.31,920.51 L1792.87,921.38 L1793.60,922.10 L1794.65,922.58 L1795.92,922.75 L1797.31,922.82 L1798.70,923.00 L1800.00,923.50 L1801.56,924.74 L1803.04,926.40 L1804.49,928.32 L1805.96,930.34 L1807.50,932.30 L1809.35,934.46 L1811.29,936.70 L1813.25,938.98 L1815.17,941.26 L1817.00,943.50 L1818.64,945.52 L1820.26,947.53 L1821.82,949.52 L1823.25,951.51 L1824.50,953.50 L1825.33,955.22 L1825.96,956.95 L1826.52,958.68 L1827.16,960.37 L1828.00,962.00 L1829.21,963.65 L1830.62,965.21 L1832.13,966.75 L1833.63,968.32 L1835.00,970.00 L1836.30,971.85 L1837.55,973.75 L1838.74,975.73 L1839.86,977.80 L1840.90,980.00 L1841.98,982.82 L1842.93,985.88 L1843.80,989.04 L1844.61,992.13 L1845.40,995.00 L1846.01,997.12 L1846.56,999.11 L1847.09,1001.04 L1847.66,1002.98 L1848.30,1005.00 L1849.11,1007.30 L1849.99,1009.62 L1850.91,1011.98 L1851.86,1014.43 L1852.80,1017.00 L1853.90,1020.38 L1854.99,1024.03 L1856.11,1027.76 L1857.33,1031.38 L1858.70,1034.70 L1860.08,1037.22 L1861.60,1039.53 L1863.18,1041.74 L1864.71,1044.02 L1866.10,1046.50 L1867.34,1049.71 L1868.35,1053.25 L1869.32,1056.83 L1870.47,1060.12 L1872.00,1062.80 L1873.62,1064.27 L1875.52,1065.32 L1877.50,1066.21 L1879.36,1067.24 L1880.90,1068.70 L1882.23,1071.07 L1883.19,1073.86 L1883.92,1076.95 L1884.57,1080.20 L1885.30,1083.50 L1886.17,1087.88 L1886.92,1092.77 L1887.67,1097.68 L1888.55,1102.15 L1889.70,1105.70 L1890.48,1107.24 L1891.31,1108.55 L1892.20,1109.68 L1893.16,1110.68 L1894.20,1111.60 L1895.30,1112.30 L1896.51,1112.79 L1897.76,1113.23 L1898.98,1113.78 L1900.10,1114.60 L1901.40,1116.22 L1902.55,1118.26 L1903.63,1120.53 L1904.75,1122.81 L1906.00,1124.90 L1907.32,1126.93 L1908.68,1129.07 L1910.11,1131.08 L1911.67,1132.73 L1913.40,1133.80 L1915.33,1133.95 L1917.51,1133.38 L1919.75,1132.59 L1921.88,1132.06 L1923.70,1132.30 L1925.23,1133.60 L1926.46,1135.62 L1927.53,1138.02 L1928.57,1140.49 L1929.70,1142.70 L1930.89,1144.50 L1932.12,1146.21 L1933.35,1147.91 L1934.52,1149.66 L1935.60,1151.50 L1936.52,1153.84 L1937.25,1156.52 L1937.96,1159.14 L1938.82,1161.27 L1940.00,1162.50 L1941.28,1162.54 L1942.78,1161.89 L1944.37,1160.97 L1945.95,1160.20 L1947.40,1160.00 L1948.68,1160.52 L1949.90,1161.48 L1951.07,1162.63 L1952.20,1163.72 L1953.30,1164.50 L1954.07,1164.82 L1954.81,1165.03 L1955.54,1165.19 L1956.27,1165.33 L1957.00,1165.50" fill="none" stroke="#ff0000" stroke-width="11.1" stroke-linejoin="round" stroke-linecap="butt"/>
<g fill="#000"><rect x="549.3" y="311.8" width="11.7" height="51.8" rx="5.2"/><rect x="549.7" y="409.5" width="11.7" height="51.8" rx="5.2"/><rect x="550.1" y="507.1" width="11.7" height="51.8" rx="5.2"/><rect x="550.6" y="604.8" width="11.7" height="51.8" rx="5.2"/><rect x="551.0" y="702.4" width="11.7" height="51.8" rx="5.2"/><rect x="551.5" y="800.0" width="11.7" height="51.8" rx="5.2"/><rect x="551.9" y="897.7" width="11.7" height="51.8" rx="5.2"/><rect x="552.4" y="995.4" width="11.7" height="51.8" rx="5.2"/><rect x="552.8" y="1093.0" width="11.7" height="51.8" rx="5.2"/><rect x="553.2" y="1190.7" width="11.7" height="51.8" rx="5.2"/><rect x="553.6" y="1288.3" width="11.7" height="20.3" rx="5.2"/></g>
<g fill="#000"><rect x="727.2" y="336.0" width="11.7" height="51.8" rx="5.2"/><rect x="727.7" y="433.6" width="11.7" height="51.8" rx="5.2"/><rect x="728.2" y="531.3" width="11.7" height="51.8" rx="5.2"/><rect x="728.8" y="629.0" width="11.7" height="51.8" rx="5.2"/><rect x="729.3" y="726.6" width="11.7" height="51.8" rx="5.2"/><rect x="729.8" y="824.2" width="11.7" height="51.8" rx="5.2"/><rect x="730.4" y="921.9" width="11.7" height="51.8" rx="5.2"/><rect x="730.9" y="1019.6" width="11.7" height="51.8" rx="5.2"/><rect x="731.4" y="1117.2" width="11.7" height="51.8" rx="5.2"/><rect x="732.0" y="1214.8" width="11.7" height="51.8" rx="5.2"/><rect x="732.4" y="1312.5" width="11.7" height="20.3" rx="5.2"/></g>
<g fill="#000"><rect x="1396.9" y="318.5" width="11.7" height="51.8" rx="5.2"/><rect x="1397.3" y="416.1" width="11.7" height="51.8" rx="5.2"/><rect x="1397.8" y="513.8" width="11.7" height="51.8" rx="5.2"/><rect x="1398.3" y="611.5" width="11.7" height="51.8" rx="5.2"/><rect x="1398.7" y="709.1" width="11.7" height="51.8" rx="5.2"/><rect x="1399.2" y="806.8" width="11.7" height="51.8" rx="5.2"/><rect x="1399.6" y="904.4" width="11.7" height="51.8" rx="5.2"/><rect x="1400.1" y="1002.1" width="11.7" height="51.8" rx="5.2"/><rect x="1400.6" y="1099.7" width="11.7" height="51.8" rx="5.2"/><rect x="1401.0" y="1197.3" width="11.7" height="51.8" rx="5.2"/><rect x="1401.4" y="1295.0" width="11.7" height="20.3" rx="5.2"/></g>
<g fill="#000"><rect x="1501.5" y="316.3" width="11.7" height="51.8" rx="5.2"/><rect x="1501.9" y="414.0" width="11.7" height="51.8" rx="5.2"/><rect x="1502.3" y="511.6" width="11.7" height="51.8" rx="5.2"/><rect x="1502.7" y="609.2" width="11.7" height="51.8" rx="5.2"/><rect x="1503.1" y="706.9" width="11.7" height="51.8" rx="5.2"/><rect x="1503.6" y="804.5" width="11.7" height="51.8" rx="5.2"/><rect x="1504.0" y="902.2" width="11.7" height="51.8" rx="5.2"/><rect x="1504.4" y="999.9" width="11.7" height="51.8" rx="5.2"/><rect x="1504.8" y="1097.5" width="11.7" height="51.8" rx="5.2"/><rect x="1505.3" y="1195.2" width="11.7" height="51.8" rx="5.2"/><rect x="1505.6" y="1292.8" width="11.7" height="20.3" rx="5.2"/></g>
<g fill="#000"><rect x="1680.1" y="319.2" width="11.7" height="51.8" rx="5.2"/><rect x="1680.6" y="416.9" width="11.7" height="51.8" rx="5.2"/><rect x="1681.1" y="514.5" width="11.7" height="51.8" rx="5.2"/><rect x="1681.5" y="612.2" width="11.7" height="51.8" rx="5.2"/><rect x="1682.0" y="709.8" width="11.7" height="51.8" rx="5.2"/><rect x="1682.5" y="807.5" width="11.7" height="51.8" rx="5.2"/><rect x="1683.0" y="905.1" width="11.7" height="51.8" rx="5.2"/><rect x="1683.5" y="1002.8" width="11.7" height="51.8" rx="5.2"/><rect x="1684.0" y="1100.4" width="11.7" height="51.8" rx="5.2"/><rect x="1684.5" y="1198.0" width="11.7" height="51.8" rx="5.2"/><rect x="1684.9" y="1295.7" width="11.7" height="20.3" rx="5.2"/></g>
<g fill="#000"><rect x="1751.6" y="321.6" width="11.7" height="51.8" rx="5.2"/><rect x="1752.1" y="419.2" width="11.7" height="51.8" rx="5.2"/><rect x="1752.5" y="516.9" width="11.7" height="51.8" rx="5.2"/><rect x="1753.0" y="614.6" width="11.7" height="51.8" rx="5.2"/><rect x="1753.5" y="712.2" width="11.7" height="51.8" rx="5.2"/><rect x="1754.0" y="809.9" width="11.7" height="51.8" rx="5.2"/><rect x="1754.5" y="907.5" width="11.7" height="51.8" rx="5.2"/><rect x="1754.9" y="1005.2" width="11.7" height="51.8" rx="5.2"/><rect x="1755.4" y="1102.8" width="11.7" height="51.8" rx="5.2"/><rect x="1755.9" y="1200.5" width="11.7" height="51.8" rx="5.2"/><rect x="1756.3" y="1298.1" width="11.7" height="20.3" rx="5.2"/></g>
<text transform="translate(580.2,315.8) rotate(-90) scale(1,1.03)" font-size="74">3286.59</text>
<text transform="translate(745.9,326.4) rotate(-90) scale(1,1.03)" font-size="74">2929.09</text>
<text transform="translate(1427.5,320.8) rotate(-90) scale(1,1.03)" font-size="74">1598.22</text>
<text transform="translate(1544.3,331.2) rotate(-90) scale(1,1.03)" font-size="74">1404.41</text>
<text transform="translate(1698.6,331.0) rotate(-90) scale(1,1.03)" font-size="74">1025.94</text>
<text transform="translate(1790.3,316.1) rotate(-90) scale(1,1.03)" font-size="74">891.92</text>
<line x1="794.3" y1="1051.5" x2="962.3" y2="1051.5" stroke="#000" stroke-width="11" stroke-linecap="round"/>
<line x1="794.3" y1="1143.9" x2="962.3" y2="1143.9" stroke="#ff0000" stroke-width="11" stroke-linecap="round"/>
<text x="980" y="1076.8" font-size="74">UAE</text>
<text x="979.5" y="1168.8" font-size="74">HWE</text>
<text transform="translate(197.0,1560.4) scale(1,1.04)" font-size="81" text-anchor="middle">4000</text>
<text transform="translate(448.4,1560.4) scale(1,1.04)" font-size="81" text-anchor="middle">3500</text>
<text transform="translate(699.9,1560.4) scale(1,1.04)" font-size="81" text-anchor="middle">3000</text>
<text transform="translate(951.3,1560.4) scale(1,1.04)" font-size="81" text-anchor="middle">2500</text>
<text transform="translate(1202.7,1560.4) scale(1,1.04)" font-size="81" text-anchor="middle">2000</text>
<text transform="translate(1454.1,1560.4) scale(1,1.04)" font-size="81" text-anchor="middle">1500</text>
<text transform="translate(1705.6,1560.4) scale(1,1.04)" font-size="81" text-anchor="middle">1000</text>
<text transform="translate(1957.0,1560.4) scale(1,1.04)" font-size="81" text-anchor="middle">500</text>
<text transform="translate(1079,1709.5) scale(1,1.015)" font-size="87" text-anchor="middle">Wavenumber (cm<tspan font-size="53" dy="-41">-1</tspan><tspan dy="41">)</tspan></text>
<text transform="translate(82.6,722.8) rotate(-90) scale(1,1.015)" font-size="87" text-anchor="middle">Transmittance (%)</text>
</svg>
</body></html>
